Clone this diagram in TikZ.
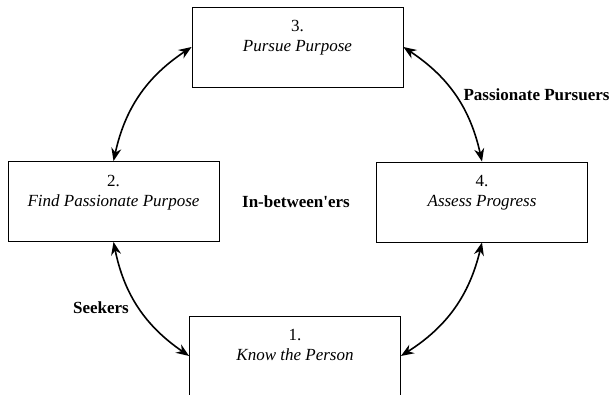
\documentclass[tikz,border=0pt]{standalone}
\usepackage{fontspec}
\setmainfont{Liberation Serif}[Ligatures=TeXOff]
\usetikzlibrary{arrows.meta}
\tikzset{
    stage/.style={draw,line width=0.8pt,minimum width=211pt,minimum height=80pt,inner sep=0pt},
    link/.style={line width=1.6pt,{Stealth[length=13pt,width=10pt]}-{Stealth[length=13pt,width=10pt]}},
    group/.style={font=\fontsize{17}{20}\selectfont\bfseries,anchor=base}
}
\newcommand{\stagetext}[2]{\begin{tabular}{c}#1\\\textit{#2}\\[18pt]\end{tabular}}
\begin{document}
\begin{tikzpicture}[x=1pt,y=-1pt,font=\fontsize{17}{20}\selectfont]
        \useasboundingbox (0,0) rectangle (613,395);
        \node[stage] (S3) at (297.5,47) {\stagetext{3.}{Pursue Purpose}};
        \node[stage] (S2) at (113.5,201.5) {\stagetext{2.}{Find Passionate Purpose}};
        \node[stage] (S4) at (482,202) {\stagetext{4.}{Assess Progress}};
        \node[stage] (S1) at (295,356) {\stagetext{1.}{Know the Person}};
        \draw[link] (S3.west) to[bend right=22] (S2.north);
        \draw[link] (S3.east) to[bend left=22] (S4.north);
        \draw[link] (S4.south) to[bend left=22] (S1.east);
        \draw[link] (S2.south) to[bend right=22] (S1.west);
        \node[group] (pursuers) at (536.5,101) {Passionate Pursuers};
        \node[group] (between) at (296,208) {In-between'ers};
        \node[group] (seekers) at (101,313) {Seekers};
    \end{tikzpicture}
\end{document}
